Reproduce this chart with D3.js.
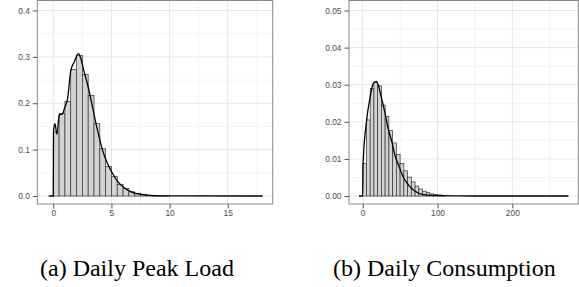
<!DOCTYPE html>
<html>
<head>
<meta charset="utf-8">
<script src="https://cdn.jsdelivr.net/npm/d3@7"></script>
<style>
  body { margin: 0; background: #fff; }
  svg { display: block; }
  .tick text { font-family: "Liberation Sans", Arial, sans-serif; font-size: 8.4px; fill: #4d4d4d; }
  .tick line { stroke: #555; }
</style>
</head>
<body>
<svg width="579" height="287"></svg>
<script>
// (a) daily peak load, bins of 0.5
var peakBinWidth = 0.5
var peakHist = [0.138, 0.178, 0.204, 0.273, 0.303, 0.262, 0.217, 0.156, 0.102, 0.064,
                0.042, 0.025, 0.016, 0.009, 0.006, 0.004, 0.002, 0.001, 0.0005, 0.0003]
var peakDensX = [-0.4, 0, 0.02, 0.14, 0.31, 0.51, 0.8, 1.0, 1.23, 1.51, 1.8, 2.17, 2.37, 2.66,
                 3.0, 3.37, 3.8, 4.23, 4.66, 5.09, 5.51, 6.09, 6.8, 7.5, 8.5, 10, 18]
var peakDensY = [0, 0, 0.14, 0.156, 0.133, 0.174, 0.178, 0.192, 0.21, 0.271, 0.289, 0.307, 0.296, 0.267,
                 0.235, 0.192, 0.142, 0.099, 0.070, 0.049, 0.032, 0.018, 0.008, 0.0036, 0.001, 0.0002, 0]
var peakXTicks = [0, 5, 10, 15]
var peakYTicks = [0, 0.1, 0.2, 0.3, 0.4]

// (b) daily consumption, bins of 5
var consBinWidth = 5
var consHist = [0.0088, 0.0205, 0.0290, 0.0307, 0.0297, 0.0245, 0.0215, 0.0177, 0.0143, 0.0112,
                0.0088, 0.0068, 0.0051, 0.0038, 0.0027, 0.0019, 0.0013, 0.0009, 0.0006, 0.0004, 0.0003, 0.0002]
var consDensX = [-5, 0, 0.5, 5, 10, 14, 18, 21, 25, 30, 34, 39, 43, 48, 54, 61, 70, 81, 100, 150, 275]
var consDensY = [0, 0, 0.0085, 0.020, 0.0267, 0.0303, 0.0309, 0.0298, 0.0265, 0.0222, 0.0182, 0.0146,
                 0.011, 0.0083, 0.0052, 0.003, 0.0013, 0.0004, 0.0001, 0, 0]
var consXTicks = [0, 100, 200]
var consYTicks = [0, 0.01, 0.02, 0.03, 0.04, 0.05]

var captions = ["(a) Daily Peak Load", "(b) Daily Consumption"]

var svg = d3.select('svg')

function drawPanel(p) {
  var g = svg.append('g')
  var x = d3.scaleLinear().domain(p.xdom).range([p.left, p.right])
  var y = d3.scaleLinear().domain(p.ydom).range([p.bottom, p.top])

  // minor grid, between the major ticks
  var xMinor = p.xTicks.map(function(t) { return t + p.xStep / 2 })
  var yMinor = p.yTicks.map(function(t) { return t + p.yStep / 2 })
  g.selectAll('line.xminor').data(xMinor.filter(function(v) { return v < p.xdom[1] })).enter()
    .append('line').attr('x1', x).attr('x2', x).attr('y1', p.top).attr('y2', p.bottom)
    .attr('stroke', '#f4f4f4').attr('stroke-width', 1)
  g.selectAll('line.yminor').data(yMinor.filter(function(v) { return v < p.ydom[1] })).enter()
    .append('line').attr('y1', y).attr('y2', y).attr('x1', p.left).attr('x2', p.right)
    .attr('stroke', '#f4f4f4').attr('stroke-width', 1)
  // major grid
  g.selectAll('line.xmajor').data(p.xTicks).enter()
    .append('line').attr('x1', x).attr('x2', x).attr('y1', p.top).attr('y2', p.bottom)
    .attr('stroke', '#e6e6e6').attr('stroke-width', 1)
  g.selectAll('line.ymajor').data(p.yTicks).enter()
    .append('line').attr('y1', y).attr('y2', y).attr('x1', p.left).attr('x2', p.right)
    .attr('stroke', '#e6e6e6').attr('stroke-width', 1)

  // histogram
  g.selectAll('rect.bar').data(p.hist).enter()
    .append('rect')
    .attr('x', function(d, i) { return x(i * p.bw) })
    .attr('width', function(d, i) { return x((i + 1) * p.bw) - x(i * p.bw) })
    .attr('y', function(d) { return y(d) })
    .attr('height', function(d) { return y(0) - y(d) })
    .attr('fill', '#d3d3d3')
    .attr('stroke', '#333')
    .attr('stroke-width', 0.7)

  // density
  var pts = p.dx.map(function(v, i) { return [v, p.dy[i]] })
  var line = d3.line().x(function(d) { return x(d[0]) }).y(function(d) { return y(d[1]) })
    .curve(d3.curveMonotoneX)
  g.append('path').attr('d', line(pts)).attr('fill', 'none')
    .attr('stroke', '#000').attr('stroke-width', 1.3)

  // border
  g.append('rect').attr('x', p.left).attr('y', p.top).attr('width', p.right - p.left)
    .attr('height', p.bottom - p.top).attr('fill', 'none').attr('stroke', '#8a8a8a').attr('stroke-width', 1)

  var xa = g.append('g').attr('transform', 'translate(0,' + p.bottom + ')')
    .call(d3.axisBottom(x).tickValues(p.xTicks).tickFormat(d3.format('d')).tickSize(4.5).tickPadding(2))
  var ya = g.append('g').attr('transform', 'translate(' + p.left + ',0)')
    .call(d3.axisLeft(y).tickValues(p.yTicks).tickFormat(d3.format(p.yfmt)).tickSize(4.5).tickPadding(3))
  xa.select('.domain').remove()
  ya.select('.domain').remove()

  svg.append('text')
    .attr('x', p.capX).attr('y', 276)
    .attr('font-family', 'Liberation Serif, serif')
    .attr('font-size', 24)
    .attr('fill', '#000')
    .text(p.caption)
}

drawPanel({
  hist: peakHist, bw: peakBinWidth, dx: peakDensX, dy: peakDensY,
  xTicks: peakXTicks, yTicks: peakYTicks, xStep: 5, yStep: 0.1, yfmt: '.1f',
  xdom: [-1.376, 18.87], ydom: [-0.0172, 0.4215],
  left: 37.3, right: 272.7, top: 0.5, bottom: 204,
  caption: captions[0], capX: 40
})

drawPanel({
  hist: consHist, bw: consBinWidth, dx: consDensX, dy: consDensY,
  xTicks: consXTicks, yTicks: consYTicks, xStep: 100, yStep: 0.01, yfmt: '.2f',
  xdom: [-18.3, 288.2], ydom: [-0.00215, 0.0527],
  left: 349, right: 578.3, top: 0.5, bottom: 204,
  caption: captions[1], capX: 333
})
</script>
</body>
</html>
